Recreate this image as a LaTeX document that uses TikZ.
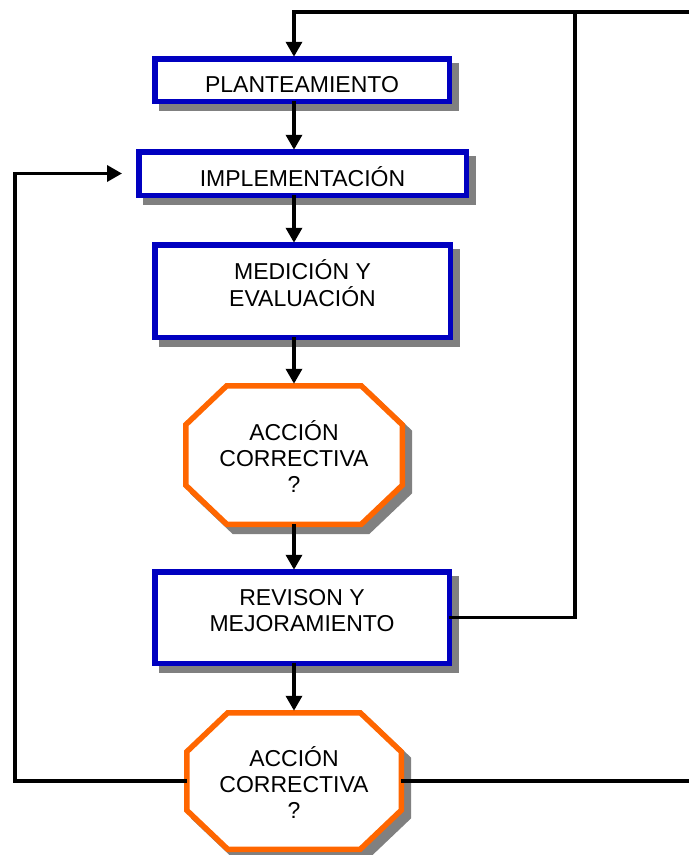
\documentclass[tikz,border=0pt]{standalone}
\usepackage{fontspec}
\setmainfont{Liberation Sans}
\usetikzlibrary{arrows.meta,calc}

\definecolor{frameblue}{RGB}{0,0,192}
\definecolor{frameorange}{RGB}{255,102,0}
\definecolor{shadowgray}{RGB}{128,128,128}

% closed octagon around a node, optionally offset (for the shadow)
\newcommand\octoutline[3]{%
  ($(#1.north west)+(41+#2,#3)$) -- ($(#1.north east)+(-41+#2,#3)$) --
  ($(#1.north east)+(#2,39+#3)$) -- ($(#1.south east)+(#2,-39+#3)$) --
  ($(#1.south east)+(-41+#2,#3)$) -- ($(#1.south west)+(41+#2,#3)$) --
  ($(#1.south west)+(#2,-39+#3)$) -- ($(#1.north west)+(#2,39+#3)$) -- cycle}
% rectangle around a node, optionally offset
\newcommand\rectoutline[3]{%
  ($(#1.north west)+(#2,#3)$) rectangle ($(#1.south east)+(#2,#3)$)}
\newcommand\lines[1]{\begin{tabular}{@{}c@{}}#1\end{tabular}}

\tikzset{
  shapebox/.style={rectangle, draw=none, outer sep=0pt, inner sep=0pt},
  shadowfill/.style={fill=shadowgray, draw=shadowgray, line width=5.5pt},
  bluefill/.style={fill=white, draw=frameblue, line width=5.5pt},
  orangefill/.style={fill=white, draw=frameorange, line width=5.5pt, line join=miter},
  caption/.style={font=\fontsize{23}{26}\selectfont, inner sep=0pt, text=black},
  flow/.style={line width=3.5pt, draw=black},
  flowarrow/.style={flow, -{Triangle[length=15pt,width=16pt]}, shorten >=2pt},
}

\begin{document}
\begin{tikzpicture}[x=1pt, y=-1pt]
  \useasboundingbox (0,0) rectangle (689,855);

  % shape frames (centre-line sizes)
  \node[shapebox, minimum width=294.5pt, minimum height=42.5pt] (plan) at (302,80) {};
  \node[shapebox, minimum width=327.5pt, minimum height=43.5pt] (impl) at (302.5,173.5) {};
  \node[shapebox, minimum width=295.5pt, minimum height=92.5pt] (med) at (302.5,291) {};
  \node[shapebox, minimum width=216.5pt, minimum height=138.5pt] (acc1) at (294,455) {};
  \node[shapebox, minimum width=294.5pt, minimum height=91.5pt] (rev) at (302,617.5) {};
  \node[shapebox, minimum width=214.5pt, minimum height=136.5pt] (acc2) at (294,781) {};

  % drop shadows
  \path[shadowfill] \rectoutline{plan}{7}{7};
  \path[shadowfill] \rectoutline{impl}{7}{7};
  \path[shadowfill] \rectoutline{med}{7}{7};
  \path[shadowfill] \rectoutline{rev}{7}{7};
  \path[shadowfill] \octoutline{acc1}{7}{7};
  \path[shadowfill] \octoutline{acc2}{7}{7};

  % frames
  \path[bluefill] \rectoutline{plan}{0}{0};
  \path[bluefill] \rectoutline{impl}{0}{0};
  \path[bluefill] \rectoutline{med}{0}{0};
  \path[bluefill] \rectoutline{rev}{0}{0};
  \path[orangefill] \octoutline{acc1}{0}{0};
  \path[orangefill] \octoutline{acc2}{0}{0};

  % labels
  \node[caption] (tplan) at ($(plan.center)+(0,6.8)$) {\lines{PLANTEAMIENTO}};
  \node[caption] (timpl) at ($(impl.center)+(0,7.3)$) {\lines{IMPLEMENTACIÓN}};
  \node[caption] (tmed) at ($(med.center)+(0,-4.2)$) {\lines{MEDICIÓN Y\\EVALUACIÓN}};
  \node[caption] (tacc1) at ($(acc1.center)+(0,5.8)$) {\lines{ACCIÓN\\CORRECTIVA\\?}};
  \node[caption] (trev) at ($(rev.center)+(0,-4.7)$) {\lines{REVISON Y\\MEJORAMIENTO}};
  \node[caption] (tacc2) at ($(acc2.center)+(0,5.8)$) {\lines{ACCIÓN\\CORRECTIVA\\?}};

  % main sequence
  \draw[flowarrow] (plan.south -| acc1.center) -- (impl.north -| acc1.center);
  \draw[flowarrow] (impl.south -| acc1.center) -- (med.north -| acc1.center);
  \draw[flowarrow] (med.south -| acc1.center) -- (acc1.north);
  \draw[flowarrow] (acc1.south) -- (rev.north -| acc1.center);
  \draw[flowarrow] (rev.south -| acc1.center) -- (acc2.north);

  % feedback to the start
  \coordinate (topright) at (689,12);
  \coordinate (topleft) at (plan.north -| acc1.center);
  \coordinate (riser) at (575,12);
  \draw[flow] (rev.east) -| (riser);
  \draw[flowarrow] (topright) -- (topleft |- topright) -- (topleft);

  % feedback to implementation
  \coordinate (leftrail) at (15,173.5);
  \coordinate (impltip) at (122,173.5);
  \draw[flowarrow, shorten >=0pt] (acc2.west) -| (leftrail) -- (impltip);

  % continuation to the right
  \coordinate (bottomright) at (689,781);
  \draw[flow] (acc2.east) -- (bottomright);
\end{tikzpicture}
\end{document}
